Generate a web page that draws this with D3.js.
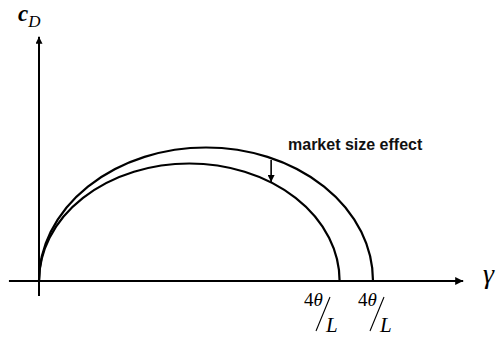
<!DOCTYPE html>
<html>
<head>
<meta charset="utf-8">
<script src="https://cdn.jsdelivr.net/npm/d3@7"></script>
<style>
  html, body { margin: 0; padding: 0; background: #fff; }
  svg { display: block; }
</style>
</head>
<body>
<svg id="chart" width="499" height="337"></svg>
<script>
// Demand curves c_D(γ): each returns to zero at its root 4θ/L.
const curveNames = ["larger market", "smaller market"];
const curveRoots = [1.0, 0.9];     // γ where c_D falls back to zero
const curvePeaks = [1.0, 0.88];    // maximum c_D of each curve
const rootLabelNum = ["4θ", "4θ"];
const rootLabelDen = ["L", "L"];
const shiftFrom = [0.695, 0.906];  // market size effect arrow: [γ, c_D] start
const shiftTo = [0.695, 0.742];    // and end

const svg = d3.select("#chart");

const x = d3.scaleLinear().domain([0, 1]).range([39, 373]);
const y = d3.scaleLinear().domain([0, 1]).range([281, 147.5]);

const defs = svg.append("defs");
defs.append("marker")
  .attr("id", "head")
  .attr("viewBox", "0 0 10 10")
  .attr("refX", 10).attr("refY", 5)
  .attr("markerWidth", 10).attr("markerHeight", 8)
  .attr("markerUnits", "userSpaceOnUse")
  .attr("orient", "auto")
  .append("path").attr("d", "M0,0 L10,5 L0,10 Z").attr("fill", "#000");
defs.append("marker")
  .attr("id", "smallhead")
  .attr("viewBox", "0 0 10 10")
  .attr("refX", 10).attr("refY", 5)
  .attr("markerWidth", 7).attr("markerHeight", 7)
  .attr("markerUnits", "userSpaceOnUse")
  .attr("orient", "auto")
  .append("path").attr("d", "M0,0 L10,5 L0,10 Z").attr("fill", "#000");

// Axes
svg.append("line")
  .attr("x1", x(-0.09)).attr("y1", y(0))
  .attr("x2", x(1.27)).attr("y2", y(0))
  .attr("stroke", "#000").attr("stroke-width", 2)
  .attr("marker-end", "url(#head)");
svg.append("line")
  .attr("x1", x(0)).attr("y1", y(-0.112))
  .attr("x2", x(0)).attr("y2", y(1.83))
  .attr("stroke", "#000").attr("stroke-width", 2)
  .attr("marker-end", "url(#smallhead)");

// Curves drawn as half ellipses between 0 and the root
svg.selectAll("path.curve")
  .data(curveNames.map((n, i) => ({ name: n, root: curveRoots[i], peak: curvePeaks[i] })))
  .join("path")
  .attr("class", "curve")
  .attr("d", d => {
    const x0 = x(0), x1 = x(d.root), rx = (x1 - x0) / 2, ry = y(0) - y(d.peak);
    return `M${x0},${y(0)} A${rx},${ry} 0 0 1 ${x1},${y(0)}`;
  })
  .attr("fill", "none").attr("stroke", "#000").attr("stroke-width", 2.2);

// Market size effect arrow
svg.append("line")
  .attr("x1", x(shiftFrom[0])).attr("y1", y(shiftFrom[1]))
  .attr("x2", x(shiftTo[0])).attr("y2", y(shiftTo[1]))
  .attr("stroke", "#000").attr("stroke-width", 1.6)
  .attr("marker-end", "url(#smallhead)");
svg.append("text")
  .attr("x", 288).attr("y", 150)
  .attr("font-family", "Liberation Sans, Arial, sans-serif")
  .attr("font-weight", "bold").attr("font-size", 16)
  .attr("fill", "#111")
  .text("market size effect");

// Root labels 4θ/L, set below the axis under each root
const labelX = [304, 358];
const lab = svg.selectAll("g.rootlab")
  .data(rootLabelNum.map((num, i) => ({ num, den: rootLabelDen[i], lx: labelX[i] })))
  .join("g").attr("class", "rootlab")
  .attr("transform", d => `translate(${d.lx},0)`);
lab.append("text")
  .attr("x", 0).attr("y", 306)
  .attr("font-family", "Liberation Serif, Times New Roman, serif")
  .attr("font-size", 19)
  .text(d => d.num.slice(0, 1))
  .append("tspan").attr("font-style", "italic").text(d => d.num.slice(1));
lab.append("line")
  .attr("x1", 26).attr("y1", 297).attr("x2", 12).attr("y2", 331)
  .attr("stroke", "#000").attr("stroke-width", 1.1);
lab.append("text")
  .attr("x", 22).attr("y", 332)
  .attr("font-family", "Liberation Serif, Times New Roman, serif")
  .attr("font-style", "italic").attr("font-size", 21)
  .text(d => d.den);

// Axis titles
const yTitle = svg.append("text")
  .attr("x", 18).attr("y", 21)
  .attr("font-family", "Liberation Serif, Times New Roman, serif");
yTitle.append("tspan").attr("font-style", "italic").attr("font-weight", "bold")
  .attr("font-size", 23).text("c");
yTitle.append("tspan").attr("font-style", "italic").attr("font-size", 17)
  .attr("dy", 6).text("D");

svg.append("text")
  .attr("x", 483).attr("y", 283)
  .attr("font-family", "Liberation Serif, Times New Roman, serif")
  .attr("font-style", "italic").attr("font-size", 28)
  .text("γ");
</script>
</body>
</html>
